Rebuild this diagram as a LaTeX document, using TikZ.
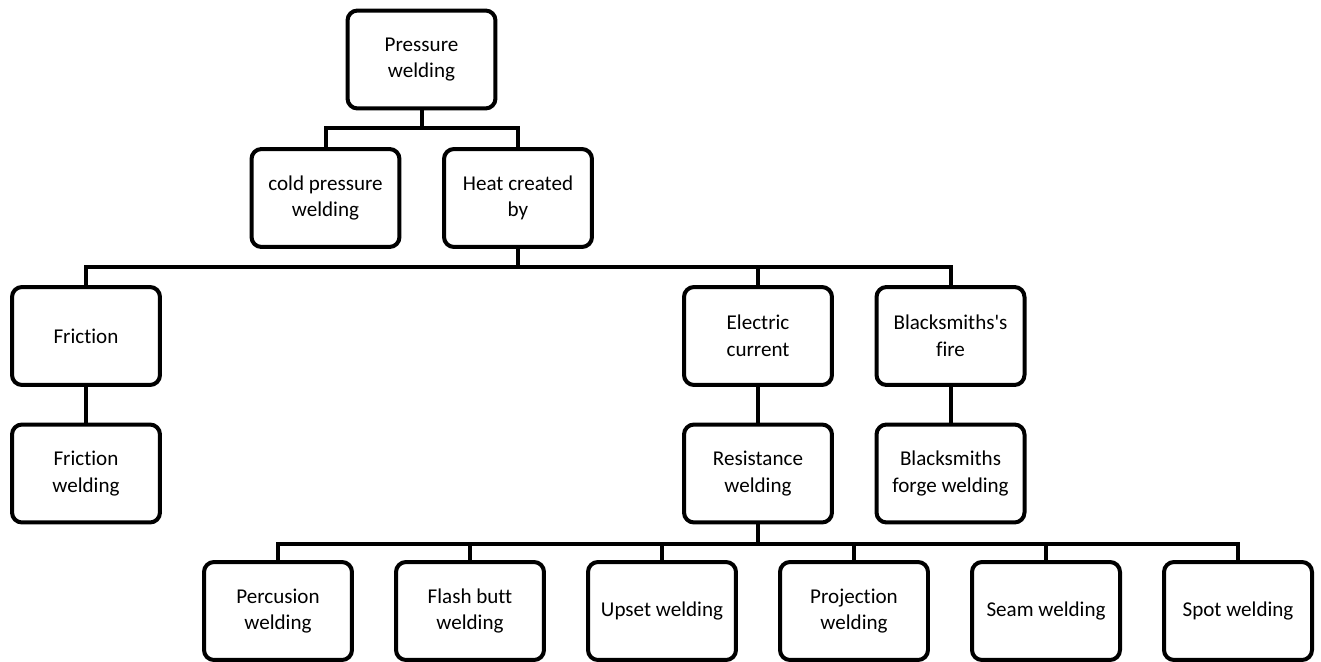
\documentclass[tikz,border=0pt]{standalone}
\usepackage{fontspec}
\setmainfont{Carlito}[Ligatures={NoCommon}]
\usetikzlibrary{positioning}

\begin{document}
\begin{tikzpicture}[x=0.02cm, y=-0.02cm,
		wbox/.style={draw=black, line width=0.08cm, rounded corners=0.2cm,
			minimum width=2.96cm, minimum height=1.96cm, align=center,
			fill=white, inner sep=2pt, font=\fontsize{12}{15.2}\selectfont},
		link/.style={draw=black, line width=0.08cm}
	]
		\useasboundingbox (0,0) rectangle (1321,662);
		% levels 0 and 1
		\node[wbox] (pw) at (421.5,59.5) {Pressure\\welding};
		\node[wbox] (cold) at (325.5,198) {cold pressure\\welding};
		\node[wbox] (heat) at (518,198) {Heat created\\by};
		% level 2
		\node[wbox] (fric) at (86,336) {Friction};
		\node[wbox] (elec) at (758,336) {Electric\\current};
		\node[wbox] (bsf) at (950.5,336) {Blacksmiths\textquotesingle s\\fire};
		% level 3
		\node[wbox] (fricw) at (86,473.5) {Friction\\welding};
		\node[wbox] (res) at (758,473.5) {Resistance\\welding};
		\node[wbox] (forge) at (950.5,473.5) {Blacksmiths\\forge welding};
		% level 4
		\node[wbox] (perc) at (278,611) {Percusion\\welding};
		\node[wbox] (flash) at (470,611) {Flash butt\\welding};
		\node[wbox] (upset) at (662,611) {Upset welding};
		\node[wbox] (proj) at (854,611) {Projection\\welding};
		\node[wbox] (seam) at (1046,611) {Seam welding};
		\node[wbox] (spot) at (1238,611) {Spot welding};
		% buses
		\coordinate (bus1) at (421.5,128);
		\coordinate (bus2) at (518,267);
		\coordinate (bus3) at (758,544);
		\draw[link] (pw.south) -- (bus1);
		\draw[link] (cold.north) |- (bus1) -| (heat.north);
		\draw[link] (heat.south) -- (bus2);
		\draw[link] (fric.north) |- (bus2) -| (bsf.north);
		\draw[link] (elec.north) -- (elec.north |- bus2);
		\draw[link] (fric.south) -- (fricw.north);
		\draw[link] (elec.south) -- (res.north);
		\draw[link] (bsf.south) -- (forge.north);
		\draw[link] (res.south) -- (bus3);
		\draw[link] (perc.north) |- (bus3) -| (spot.north);
		\foreach \n in {flash,upset,proj,seam}
			\draw[link] (\n.north) -- (\n.north |- bus3);
	\end{tikzpicture}
\end{document}
